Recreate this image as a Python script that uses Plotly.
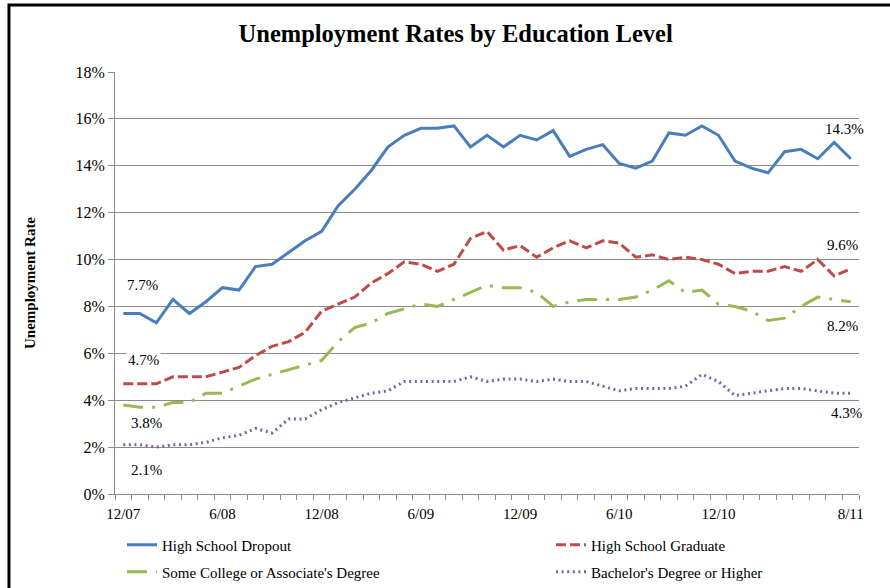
import plotly.graph_objects as go

# ---- data (monthly, Dec 2007 .. Aug 2011) ----
tick_labels = ["12/07", "6/08", "12/08", "6/09", "12/09", "6/10", "12/10", "8/11"]
tick_index = [0, 6, 12, 18, 24, 30, 36, 44]

dropout = [7.7, 7.7, 7.3, 8.3, 7.7, 8.2, 8.8, 8.7, 9.7, 9.8,
           10.3, 10.8, 11.2, 12.3, 13.0, 13.8, 14.8, 15.3, 15.6, 15.6,
           15.7, 14.8, 15.3, 14.8, 15.3, 15.1, 15.5, 14.4, 14.7, 14.9,
           14.1, 13.9, 14.2, 15.4, 15.3, 15.7, 15.3, 14.2, 13.9, 13.7,
           14.6, 14.7, 14.3, 15.0, 14.3]
hs_grad = [4.7, 4.7, 4.7, 5.0, 5.0, 5.0, 5.2, 5.4, 5.9, 6.3,
           6.5, 6.9, 7.8, 8.1, 8.4, 9.0, 9.4, 9.9, 9.8, 9.5,
           9.8, 10.9, 11.2, 10.4, 10.6, 10.1, 10.5, 10.8, 10.5, 10.8,
           10.7, 10.1, 10.2, 10.0, 10.1, 10.0, 9.8, 9.4, 9.5, 9.5,
           9.7, 9.5, 10.0, 9.3, 9.6]
some_college = [3.8, 3.7, 3.7, 3.9, 3.9, 4.3, 4.3, 4.6, 4.9, 5.1,
                5.3, 5.5, 5.7, 6.5, 7.1, 7.3, 7.7, 7.9, 8.1, 8.0,
                8.3, 8.6, 8.9, 8.8, 8.8, 8.6, 8.0, 8.2, 8.3, 8.3,
                8.3, 8.4, 8.7, 9.1, 8.6, 8.7, 8.1, 8.0, 7.8, 7.4,
                7.5, 8.0, 8.4, 8.3, 8.2]
bachelors = [2.1, 2.1, 2.0, 2.1, 2.1, 2.2, 2.4, 2.5, 2.8, 2.6,
             3.2, 3.2, 3.6, 3.9, 4.1, 4.3, 4.4, 4.8, 4.8, 4.8,
             4.8, 5.0, 4.8, 4.9, 4.9, 4.8, 4.9, 4.8, 4.8, 4.6,
             4.4, 4.5, 4.5, 4.5, 4.6, 5.1, 4.8, 4.2, 4.3, 4.4,
             4.5, 4.5, 4.4, 4.3, 4.3]

series_names = ["High School Dropout", "High School Graduate",
                "Some College or Associate's Degree", "Bachelor's Degree or Higher"]

# ---- styles ----
FONT = "Liberation Serif, Times New Roman, serif"
GRID = "#8c8c8c"
colors = ["#4A7EBB", "#BE4B48", "#98B954", "#7D60A0"]
dashes = ["solid", "10px,4px", "20px,9px,3px,9px", "2px,3.6px"]
legend_ids = ["legend", "legend2", "legend3", "legend4"]
legend_pos = [(0.0094, -0.1209), (0.586, -0.1209), (0.0094, -0.1848), (0.586, -0.1848)]
all_series = [dropout, hs_grad, some_college, bachelors]

x = list(range(len(dropout)))

fig = go.Figure()
for name, ys, c, d, lg in zip(series_names, all_series, colors, dashes, legend_ids):
    fig.add_trace(go.Scatter(
        x=x, y=ys, mode="lines", name=name, legend=lg,
        line=dict(color=c, width=3, dash=d),
        hovertemplate="%{y:.1f}%<extra>" + name + "</extra>",
    ))

# end-point labels (offsets in pixels from the data point)
left_off = [(19, 28), (20, 24), (23, -18), (23, -25)]
right_off = [(-6, 30), (-8, 24), (-8, -24), (-4, -20)]
for ys, (lx, ly), (rx, ry) in zip(all_series, left_off, right_off):
    fig.add_annotation(x=0, y=ys[0], text=f"{ys[0]:.1f}%", showarrow=False,
                       xshift=lx, yshift=ly, bgcolor="white",
                       font=dict(family=FONT, size=15, color="black"))
    fig.add_annotation(x=len(ys) - 1, y=ys[-1], text=f"{ys[-1]:.1f}%", showarrow=False,
                       xshift=rx, yshift=ry, bgcolor="white",
                       font=dict(family=FONT, size=15, color="black"))

# outer frame (left & top visible)
fig.add_shape(type="rect", xref="paper", yref="paper",
              x0=-0.1425, x1=2.0, y0=-1.0, y1=1.1588,
              line=dict(color="black", width=3), layer="above")

legend_layout = {}
for lg, (lx, ly) in zip(legend_ids, legend_pos):
    legend_layout[lg] = dict(orientation="h", x=lx, xanchor="left", y=ly, yanchor="middle",
                             font=dict(family=FONT, size=15), bgcolor="rgba(0,0,0,0)")

fig.update_layout(
    width=890, height=588,
    margin=dict(l=115, r=31, t=72, b=94, autoexpand=False),
    paper_bgcolor="white", plot_bgcolor="white",
    font=dict(family=FONT, size=15, color="black"),
    title=dict(text="<b>Unemployment Rates by Education Level</b>",
               x=0.512, xanchor="center", y=0.944, yanchor="middle",
               font=dict(family=FONT, size=24.5, color="black")),
    xaxis=dict(range=[-0.5, len(dropout) - 0.5], tickmode="array",
               tickvals=tick_index, ticktext=tick_labels, ticks="",
               ticklabelstandoff=6, automargin=False,
               showgrid=False, zeroline=False, showline=True,
               linecolor=GRID, linewidth=1,
               minor=dict(ticks="outside", tick0=-0.5, dtick=1, ticklen=5,
                          tickcolor=GRID, tickwidth=1, showgrid=False),
               tickfont=dict(family=FONT, size=15)),
    yaxis=dict(range=[0, 18], dtick=2, ticksuffix="%", automargin=False,
               showgrid=True, gridcolor=GRID, gridwidth=1,
               zeroline=False, showline=True, linecolor=GRID, linewidth=1,
               ticks="outside", ticklen=6, tickcolor=GRID,
               tickfont=dict(family=FONT, size=16),
               title=dict(text="<b>Unemployment Rate</b>", standoff=36,
                          font=dict(family=FONT, size=15))),
    showlegend=True,
    **legend_layout,
)

fig.write_html("out.html", config={"displayModeBar": False},
               post_script="document.body.style.margin='0';")
